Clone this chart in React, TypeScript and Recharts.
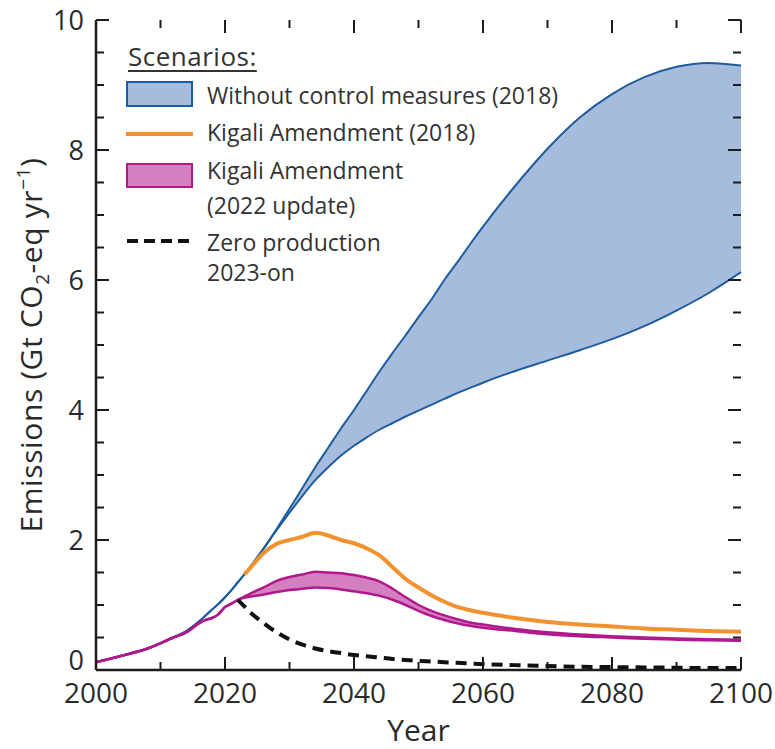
import { ComposedChart, Area, Line, XAxis, YAxis, Legend } from 'recharts'

const FONT = '"Open Sans", "Noto Sans", sans-serif'
const AXIS = '#1c1c1c'
const TEXT = '#2a2a2a'

const BLUE = '#1f5c9e'
const BLUE_FILL = '#a6bcdc'
const ORANGE = '#f2922f'
const MAGENTA = '#b0198c'
const MAGENTA_FILL = '#d47fbf'

const WIDTH = 775
const HEIGHT = 749
const MARGIN = { top: 20, right: 34, bottom: 0, left: 0 }
const PLOT_TOP = MARGIN.top
const PLOT_RIGHT = WIDTH - MARGIN.right

const years = [
  2000, 2004, 2008, 2012, 2014, 2016, 2017, 2018, 2019, 2020,
  2021, 2022, 2023, 2024, 2026, 2028, 2030, 2032, 2034, 2036,
  2038, 2040, 2042, 2044, 2046, 2048, 2050, 2052, 2054, 2056,
  2058, 2060, 2065, 2070, 2075, 2080, 2085, 2090, 2095, 2100,
]

// Without control measures (2018) - upper / lower edge of band
const noControlHigh = [
  0.12, 0.22, 0.33, 0.5, 0.6, 0.75, 0.84, 0.93, 1.02, 1.12,
  1.23, 1.35, 1.47, 1.6, 1.87, 2.17, 2.48, 2.8, 3.12, 3.42,
  3.72, 4.0, 4.3, 4.6, 4.88, 5.15, 5.43, 5.7, 6.0, 6.27,
  6.55, 6.82, 7.45, 8.02, 8.5, 8.86, 9.12, 9.28, 9.34, 9.3,
]
const noControlLow = [
  0.12, 0.22, 0.33, 0.5, 0.6, 0.75, 0.84, 0.93, 1.02, 1.12,
  1.23, 1.35, 1.47, 1.6, 1.87, 2.15, 2.42, 2.68, 2.92, 3.12,
  3.3, 3.45, 3.58, 3.7, 3.8, 3.9, 3.99, 4.08, 4.17, 4.26,
  4.34, 4.42, 4.6, 4.76, 4.92, 5.09, 5.29, 5.53, 5.8, 6.12,
]

// Kigali Amendment (2018) - runs under the blue band until ~2023
const kigali2018 = [
  null, null, null, null, null, null, null, null, null, null,
  null, null, 1.47, 1.58, 1.8, 1.94, 2.0, 2.05, 2.11, 2.07,
  2.0, 1.95, 1.87, 1.76, 1.58, 1.4, 1.27, 1.15, 1.05, 0.97,
  0.92, 0.88, 0.8, 0.74, 0.7, 0.67, 0.64, 0.62, 0.6, 0.59,
]

// Kigali Amendment (2022 update) - band
const kigali2022High = [
  0.12, 0.22, 0.33, 0.5, 0.58, 0.72, 0.77, 0.8, 0.86, 0.97,
  1.02, 1.08, 1.13, 1.18, 1.27, 1.37, 1.43, 1.47, 1.51, 1.5,
  1.49, 1.46, 1.42, 1.36, 1.25, 1.12, 1.0, 0.91, 0.84, 0.78,
  0.73, 0.7, 0.63, 0.58, 0.545, 0.52, 0.5, 0.485, 0.475, 0.465,
]
const kigali2022Low = [
  0.12, 0.22, 0.33, 0.5, 0.58, 0.72, 0.77, 0.8, 0.86, 0.97,
  1.02, 1.08, 1.11, 1.13, 1.16, 1.2, 1.23, 1.25, 1.27, 1.26,
  1.24, 1.21, 1.18, 1.14, 1.08, 1.0, 0.91, 0.83, 0.77, 0.72,
  0.68, 0.65, 0.6, 0.55, 0.52, 0.5, 0.48, 0.467, 0.457, 0.448,
]

// Zero production 2023-on
const zeroProduction = [
  null, null, null, null, null, null, null, null, null, null,
  null, 1.08, 0.98, 0.88, 0.72, 0.58, 0.47, 0.39, 0.33, 0.29,
  0.26, 0.23, 0.21, 0.19, 0.17, 0.155, 0.14, 0.13, 0.12, 0.11,
  0.1, 0.09, 0.075, 0.06, 0.05, 0.045, 0.04, 0.035, 0.03, 0.03,
]

const xTicks = [2000, 2010, 2020, 2030, 2040, 2050, 2060, 2070, 2080, 2090, 2100]
const yTicks = [0, 0.5, 1, 1.5, 2, 2.5, 3, 3.5, 4, 4.5, 5, 5.5, 6, 6.5, 7, 7.5, 8, 8.5, 9, 9.5, 10]

const data = years.map((year, i) => ({
  year,
  noControl: [noControlLow[i], noControlHigh[i]],
  kigali2018: kigali2018[i],
  kigali2022: [kigali2022Low[i], kigali2022High[i]],
  zero: zeroProduction[i],
}))

const isMajorX = (v: number) => v % 20 === 0
const isMajorY = (v: number) => v % 2 === 0

// bottom axis tick, also mirrors the tick mark onto the top frame
function BottomTick({ x, y, payload }: any) {
  const len = isMajorX(payload.value) ? 13 : 8
  return (
    <g>
      <line x1={x} x2={x} y1={y} y2={y - len} stroke={AXIS} strokeWidth={2} />
      <line x1={x} x2={x} y1={PLOT_TOP} y2={PLOT_TOP + len} stroke={AXIS} strokeWidth={2} />
      {isMajorX(payload.value) && (
        <text x={x} y={y + 33} textAnchor="middle" fontSize={28} fill={TEXT} fontFamily={FONT}>
          {payload.value}
        </text>
      )}
    </g>
  )
}

// left axis tick, also mirrors the tick mark onto the right frame
function LeftTick({ x, y, payload }: any) {
  const major = isMajorY(payload.value)
  const len = major ? 13 : 8
  const lift = payload.value === 0 ? 10 : 0
  return (
    <g>
      <line x1={x} x2={x + len} y1={y} y2={y} stroke={AXIS} strokeWidth={2} />
      <line x1={PLOT_RIGHT} x2={PLOT_RIGHT - len} y1={y} y2={y} stroke={AXIS} strokeWidth={2} />
      {major && (
        <text x={x - 12} y={y + 10 - lift} textAnchor="end" fontSize={27} fill={TEXT} fontFamily={FONT}>
          {payload.value}
        </text>
      )}
    </g>
  )
}

function YTitle({ viewBox }: any) {
  const cx = 42
  const cy = viewBox.y + viewBox.height / 2
  return (
    <text
      x={cx}
      y={cy}
      transform={`rotate(-90, ${cx}, ${cy})`}
      textAnchor="middle"
      fontSize={30}
      letterSpacing={0.6}
      fill={TEXT}
      fontFamily={FONT}
    >
      Emissions (Gt CO
      <tspan fontSize={19} dy={7}>2</tspan>
      <tspan dy={-7}>-eq yr</tspan>
      <tspan fontSize={19} dy={-12}>−1</tspan>
      <tspan dy={12}>)</tspan>
    </text>
  )
}

function XTitle({ viewBox }: any) {
  return (
    <text
      x={viewBox.x + viewBox.width / 2}
      y={viewBox.y + 71}
      textAnchor="middle"
      fontSize={30}
      fill={TEXT}
      fontFamily={FONT}
    >
      Year
    </text>
  )
}

function LegendBox() {
  const row = (top: number, label: string) => (
    <div style={{ position: 'absolute', left: 81, top, lineHeight: '28px', fontSize: 23, whiteSpace: 'nowrap' }}>
      {label}
    </div>
  )
  return (
    <div style={{ position: 'relative', width: 470, height: 250, fontFamily: FONT, color: '#333' }}>
      <div
        style={{
          position: 'absolute', left: 2, top: 3, fontSize: 26, lineHeight: '30px', letterSpacing: 0.5,
          textDecoration: 'underline', textDecorationThickness: 2, textUnderlineOffset: 4,
        }}
      >
        Scenarios:
      </div>
      <div style={{ position: 'absolute', left: 0, top: 43, width: 63, height: 22, background: BLUE_FILL, border: `2px solid ${BLUE}` }} />
      <div style={{ position: 'absolute', left: 0, top: 94, width: 67, height: 4, background: ORANGE }} />
      <div style={{ position: 'absolute', left: 0, top: 125, width: 63, height: 21, background: MAGENTA_FILL, border: `2px solid ${MAGENTA}` }} />
      <svg style={{ position: 'absolute', left: 1, top: 199 }} width={66} height={8}>
        <line x1={0} x2={66} y1={4} y2={4} stroke="#111" strokeWidth={4} strokeDasharray="11 6" />
      </svg>
      {row(43, 'Without control measures (2018)')}
      {row(80, 'Kigali Amendment (2018)')}
      {row(118, 'Kigali Amendment')}
      {row(153, '(2022 update)')}
      {row(190, 'Zero production')}
      {row(220, '2023-on')}
    </div>
  )
}

export default function App() {
  return (
    <div style={{ position: 'absolute', left: 0, top: 0, background: '#fff' }}>
      <ComposedChart width={WIDTH} height={HEIGHT} data={data} margin={MARGIN}>
        <XAxis
          dataKey="year"
          type="number"
          domain={[2000, 2100]}
          ticks={xTicks}
          interval={0}
          height={79}
          tickSize={0}
          tickMargin={0}
          tick={<BottomTick />}
          axisLine={{ stroke: AXIS, strokeWidth: 2.5 }}
          label={{ content: XTitle }}
        />
        <XAxis
          xAxisId="top"
          orientation="top"
          dataKey="year"
          type="number"
          domain={[2000, 2100]}
          ticks={xTicks}
          height={0}
          tick={false}
          tickLine={false}
          axisLine={{ stroke: AXIS, strokeWidth: 2.5 }}
        />
        <YAxis
          type="number"
          domain={[0, 10]}
          ticks={yTicks}
          interval={0}
          width={96}
          tickSize={0}
          tickMargin={0}
          tick={<LeftTick />}
          axisLine={{ stroke: AXIS, strokeWidth: 2.5 }}
          label={{ content: YTitle }}
        />
        <YAxis
          yAxisId="right"
          orientation="right"
          type="number"
          domain={[0, 10]}
          ticks={yTicks}
          width={0}
          tick={false}
          tickLine={false}
          axisLine={{ stroke: AXIS, strokeWidth: 2.5 }}
        />
        <Line
          dataKey="kigali2018"
          name="Kigali Amendment (2018)"
          type="monotone"
          stroke={ORANGE}
          strokeWidth={4}
          dot={false}
          isAnimationActive={false}
        />
        <Area
          dataKey="noControl"
          name="Without control measures (2018)"
          type="monotone"
          stroke={BLUE}
          strokeWidth={2}
          fill={BLUE_FILL}
          fillOpacity={1}
          isAnimationActive={false}
        />
        <Area
          dataKey="kigali2022"
          name="Kigali Amendment (2022 update)"
          type="monotone"
          stroke={MAGENTA}
          strokeWidth={2.5}
          fill={MAGENTA_FILL}
          fillOpacity={1}
          isAnimationActive={false}
        />
        <Line
          dataKey="zero"
          name="Zero production 2023-on"
          type="monotone"
          stroke="#111"
          strokeWidth={4}
          strokeDasharray="11 7"
          dot={false}
          isAnimationActive={false}
        />
        <Legend
          content={LegendBox}
          layout="vertical"
          align="center"
          verticalAlign="middle"
          wrapperStyle={{ position: 'absolute', left: 126, top: 38, width: 470, height: 250 }}
        />
      </ComposedChart>
    </div>
  )
}
